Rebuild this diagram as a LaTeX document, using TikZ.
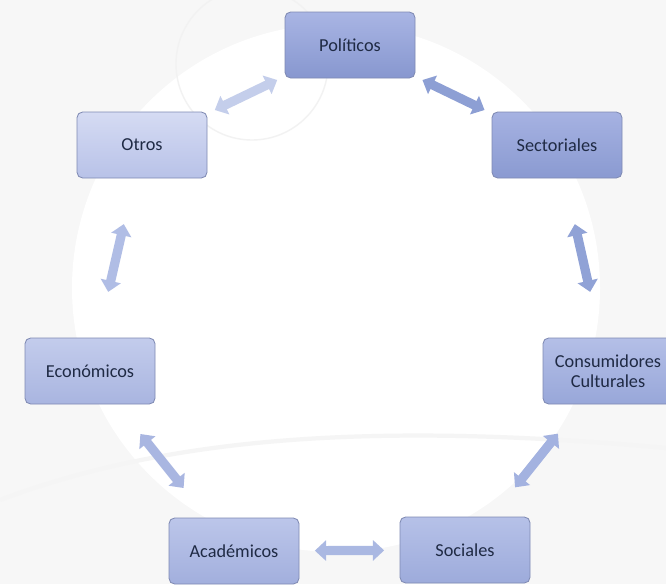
\documentclass[tikz,border=0pt]{standalone}
\usepackage{fontspec}
\setmainfont{Carlito}
\usetikzlibrary{arrows.meta,calc}
\definecolor{boxtext}{HTML}{1F2A44}
\definecolor{boxline}{HTML}{7F8AB3}
\definecolor{pol1}{HTML}{A9B5E4}\definecolor{pol2}{HTML}{8797CF}
\definecolor{sec1}{HTML}{A6B2E2}\definecolor{sec2}{HTML}{8A9AD1}
\definecolor{con1}{HTML}{B4BFE7}\definecolor{con2}{HTML}{98A7D9}
\definecolor{soc1}{HTML}{B6C1E8}\definecolor{soc2}{HTML}{9DABDB}
\definecolor{aca1}{HTML}{BCC6EA}\definecolor{aca2}{HTML}{A2AFDD}
\definecolor{eco1}{HTML}{C3CCEC}\definecolor{eco2}{HTML}{A9B5E0}
\definecolor{otr1}{HTML}{D5DBF3}\definecolor{otr2}{HTML}{B8C2E8}
\definecolor{lkotrpol}{HTML}{C4CEEB}
\definecolor{lkpolsec}{HTML}{8D9FD4}
\definecolor{lkseccon}{HTML}{90A2D6}
\definecolor{lkconsoc}{HTML}{A3B2E0}
\definecolor{lksocaca}{HTML}{AAB8E2}
\definecolor{lkacaeco}{HTML}{A9B6E1}
\definecolor{lkecootr}{HTML}{B0BDE5}
\tikzset{
  actor/.style={draw=boxline,line width=0.6pt,rounded corners=4pt,
    minimum width=3.25cm,minimum height=1.65cm,align=center,
    text=boxtext,font=\fontsize{13}{14.5}\selectfont},
  link/.style={line width=0.23cm,
    {Triangle[width=0.5cm,length=0.28cm]}-{Triangle[width=0.5cm,length=0.28cm]}}
}
\begin{document}
\begin{tikzpicture}
\useasboundingbox (0,0) rectangle (16.65,-14.6);
\fill[black!3] (0,0) rectangle (16.65,-14.6);
\fill[white] (8.4,-7.2) circle (6.6cm);
\draw[black!5,line width=1pt] (6.3,-1.6) circle (1.9cm);
\draw[black!4,line width=3pt] (0,-12.5) .. controls (4,-11) and (9,-10.5) .. (16.65,-11.2);
\node[actor,top color=pol1,bottom color=pol2] (pol) at (8.75,-1.125) {Políticos};
\node[actor,top color=sec1,bottom color=sec2] (sec) at (13.925,-3.625) {Sectoriales};
\node[actor,top color=con1,bottom color=con2] (con) at (15.2,-9.275) {Consumidores\\Culturales};
\node[actor,top color=soc1,bottom color=soc2] (soc) at (11.625,-13.75) {Sociales};
\node[actor,top color=aca1,bottom color=aca2] (aca) at (5.85,-13.775) {Académicos};
\node[actor,top color=eco1,bottom color=eco2] (eco) at (2.25,-9.275) {Económicos};
\node[actor,top color=otr1,bottom color=otr2] (otr) at (3.55,-3.625) {Otros};
\foreach \a/\b in {otr/pol, pol/sec, sec/con, con/soc, soc/aca, aca/eco, eco/otr}
  \draw[link,draw=lk\a\b,fill=lk\a\b] ($(\a)!0.35!(\b)$) -- ($(\a)!0.65!(\b)$);
\end{tikzpicture}
\end{document}
